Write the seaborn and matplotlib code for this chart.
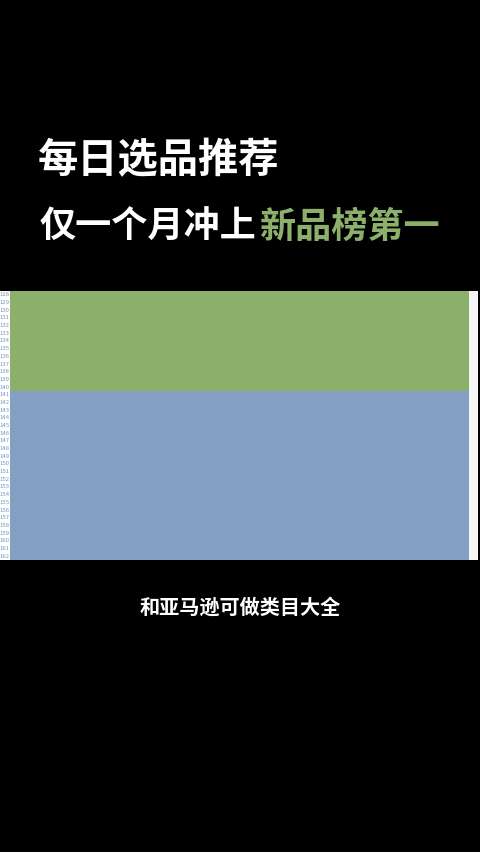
import numpy as np
import matplotlib
matplotlib.use("Agg")
import matplotlib.pyplot as plt
import seaborn as sns
from matplotlib.colors import ListedColormap

sns.set_style("white")
plt.rcParams['font.family'] = ['Noto Sans CJK SC', 'DejaVu Sans']

# spreadsheet rows shown in the screenshot, and which band each row belongs to
row_labels = [str(n) for n in range(128, 163)]
row_group = [0] * 13 + [1] * 22   # 0 = green band, 1 = blue band
n_cols = 60

title_1 = "每日选品推荐"
title_2a = "仅一个月冲上"
title_2b = "新品榜第一"
caption = "和亚马逊可做类目大全"

green = "#8daf6c"
blue = "#839fc4"

W, H = 480, 852
fig = plt.figure(figsize=(W / 100, H / 100), dpi=100)
fig.patch.set_facecolor("black")

def box(x0, y0, x1, y1):
    return [x0 / W, 1 - y1 / H, (x1 - x0) / W, (y1 - y0) / H]

# white row-number strip on the left
strip = fig.add_axes(box(0, 291, 10, 560))
strip.set_facecolor("white")
strip.set_xticks([])
strip.set_yticks([])
for s in strip.spines.values():
    s.set_visible(False)

# right white strip
rstrip = fig.add_axes(box(469, 291, 478, 560))
rstrip.set_facecolor("#f6f6f6")
rstrip.set_xticks([])
rstrip.set_yticks([])
for s in rstrip.spines.values():
    s.set_visible(False)

ax = fig.add_axes(box(10, 291, 469, 560))
grid = np.repeat(np.array(row_group)[:, None], n_cols, axis=1)
sns.heatmap(grid, ax=ax, cmap=ListedColormap([green, blue]), cbar=False,
            xticklabels=False, yticklabels=row_labels, vmin=0, vmax=1)
ax.tick_params(axis="y", length=0, pad=0.5, labelsize=4.3, labelcolor="#7896c0",
               rotation=0)

fig.text(38 / W, 1 - 161 / H, title_1, color="white", fontsize=29,
         fontweight="bold", ha="left", va="center")
fig.text(40 / W, 1 - 227 / H, title_2a, color="white", fontsize=26,
         fontweight="bold", ha="left", va="center")
fig.text(259 / W, 1 - 227 / H, title_2b, color=green, fontsize=26,
         fontweight="bold", ha="left", va="center")
fig.text(240 / W, 1 - 607 / H, caption, color="white", fontsize=14.5,
         fontweight="bold", ha="center", va="center")

fig.savefig("out.png", dpi=100, facecolor="black")
